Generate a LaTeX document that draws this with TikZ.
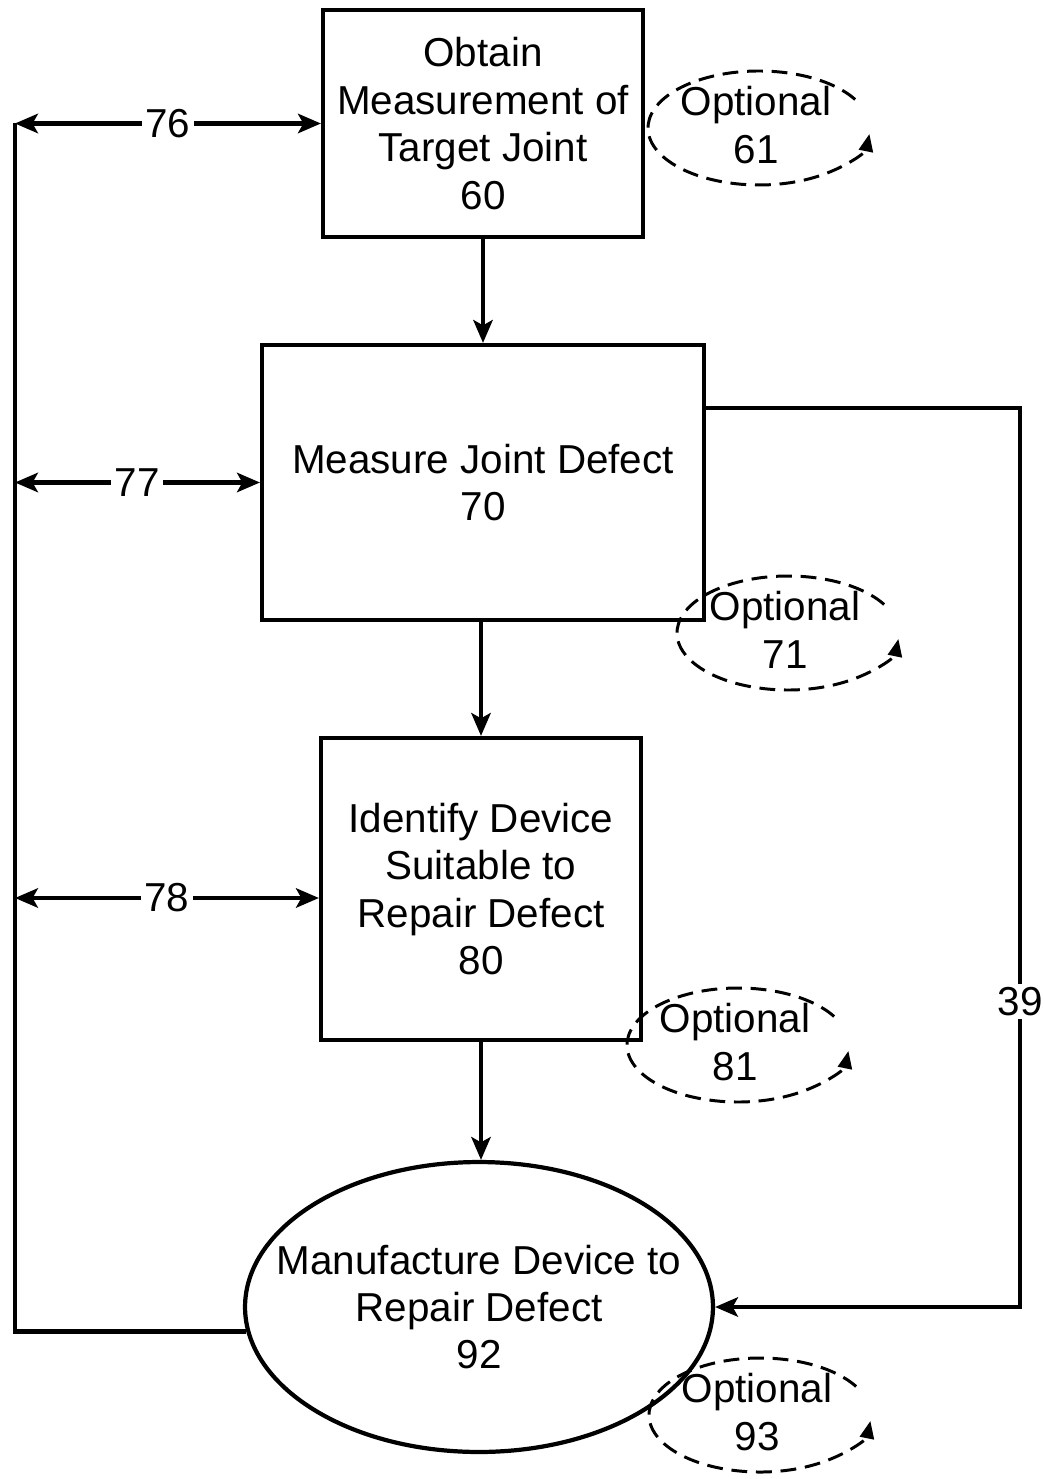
\documentclass[tikz,border=0pt]{standalone}
\usepackage{fontspec}
\setmainfont{Liberation Sans}
\usetikzlibrary{arrows.meta,shapes.geometric,calc}
\tikzset{
  base/.style={font=\fontsize{23}{27}\selectfont, align=center, inner sep=0pt},
  box/.style={base, rectangle, draw, line width=2.4pt},
  oval/.style={base, ellipse, draw, line width=2.4pt, inner xsep=-0.8cm, inner ysep=0pt},
  wire/.style={line width=2.4pt},
  arr/.style={wire, -{Stealth[length=13pt,width=11pt,inset=3pt]}},
  arr2/.style={wire, {Stealth[length=13pt,width=11pt,inset=3pt]}-{Stealth[length=13pt,width=11pt,inset=3pt]}},
  lbl/.style={base, fill=white, inner sep=2pt},
  optloop/.style={line width=1.7pt, dash pattern=on 9pt off 5pt, -{Triangle[length=10pt,width=8pt]}},
}
\begin{document}
\begin{tikzpicture}[x=0.02cm,y=-0.02cm]
  \useasboundingbox (0,0) rectangle (1044,1479);
  % process steps
  \node[box,minimum width=6.4cm,minimum height=4.54cm] (b60) at (483,123.5) {Obtain\\Measurement of\\Target Joint\\60};
  \node[box,minimum width=8.84cm,minimum height=5.5cm] (b70) at (483,482.5) {Measure Joint Defect\\70};
  \node[box,minimum width=6.4cm,minimum height=6.04cm] (b80) at (481,889) {Identify Device\\Suitable to\\Repair Defect\\80};
  \node[oval,minimum width=9.36cm,minimum height=5.8cm] (e92) at (479,1307) {Manufacture Device to\\Repair Defect\\92};
  \draw[arr] (b60) -- (b70);
  \draw[arr] (b70.south -| b80) -- (b80.north);
  \draw[arr] (b80.south) -- (b80.south |- e92.north);
  % optional loops
  \foreach \n/\cx/\cy in {61/759/128,71/788/633,81/738/1045,93/760/1415}{
    \node[base] (o\n) at (\cx-3,\cy-3) {Optional\\\n};
    \draw[optloop] ($(\cx,\cy)+(-30:111 and 57)$) arc[start angle=-30,end angle=-354,x radius=111,y radius=57];
  }
  % left feedback bus
  \coordinate (bus76) at (15,123.5);
  \coordinate (bus77) at (15,482.5);
  \coordinate (bus78) at (15,898);
  \draw[wire] (e92.186) -| (bus76);
  \draw[arr2] (bus76) -- node[lbl]{76} (b60.west);
  \draw[arr2] (bus77) -- node[lbl]{77} (b70.west);
  \draw[arr2] (bus78) -- node[lbl]{78} (b80.west |- bus78);
  % right loop
  \coordinate (r39) at (1020,408);
  \draw[arr] (b70.east |- r39) -- (r39) |- node[lbl,pos=0.33]{39} (e92.east);
\end{tikzpicture}
\end{document}
